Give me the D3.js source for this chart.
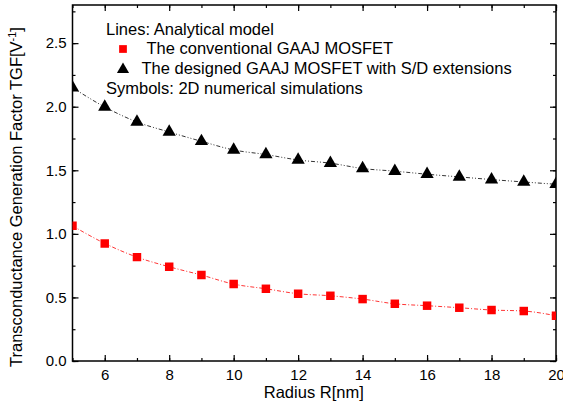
<!DOCTYPE html>
<html>
<head>
<meta charset="utf-8">
<script src="https://cdn.jsdelivr.net/npm/d3@7"></script>
<style>
  body { margin: 0; background: #fff; }
  svg { display: block; font-family: "Liberation Sans", Arial, sans-serif; }
</style>
</head>
<body>
<svg id="chart" width="563" height="407"></svg>
<script>
// radius values (nm)
const radius = [5, 6, 7, 8, 9, 10, 11, 12, 13, 14, 15, 16, 17, 18, 19, 20];
// conventional GAAJ MOSFET (red squares)
const conventional = [1.063, 0.925, 0.817, 0.741, 0.676, 0.605, 0.568, 0.529, 0.513, 0.487, 0.450, 0.435, 0.419, 0.401, 0.393, 0.356];
// designed GAAJ MOSFET with S/D extensions (black triangles)
const designed = [2.150, 1.998, 1.880, 1.801, 1.728, 1.660, 1.624, 1.581, 1.556, 1.514, 1.493, 1.469, 1.448, 1.427, 1.408, 1.390];

const xMajor = [6, 8, 10, 12, 14, 16, 18, 20];
const yMajor = [0.0, 0.5, 1.0, 1.5, 2.0, 2.5];

const legendLines = ['Lines: Analytical model', 'The conventional GAAJ MOSFET',
  'The designed GAAJ MOSFET with S/D extensions', 'Symbols: 2D numerical simulations'];

const width = 563, height = 407;
const margin = { top: 5, right: 7, bottom: 46, left: 72.5 };
const iw = width - margin.left - margin.right;
const ih = height - margin.top - margin.bottom;

const svg = d3.select('#chart');
const g = svg.append('g').attr('transform', `translate(${margin.left},${margin.top})`);

const x = d3.scaleLinear().domain([5, 20]).range([0, iw]);
const y = d3.scaleLinear().domain([0, 2.8]).range([ih, 0]);

const xMinor = d3.range(5, 20.01, 1);
const yMinor = d3.range(0, 2.81, 0.25);

// axes: minor ticks, then major ticks with labels
function styleAxis(sel) {
  sel.selectAll('path.domain').remove();
  sel.selectAll('line').attr('stroke', '#000').attr('stroke-width', 1.2);
  sel.selectAll('text').attr('fill', '#000').style('font-size', '15px');
}

g.append('g').attr('transform', `translate(0,${ih})`)
  .call(d3.axisBottom(x).tickValues(xMinor).tickSize(-3).tickFormat(''))
  .call(styleAxis);
g.append('g').attr('transform', `translate(0,${ih})`)
  .call(d3.axisBottom(x).tickValues(xMajor).tickSize(-6).tickPadding(8.5).tickFormat(d3.format('d')))
  .call(styleAxis);
g.append('g')
  .call(d3.axisTop(x).tickValues(xMinor).tickSize(-3).tickFormat(''))
  .call(styleAxis);
g.append('g')
  .call(d3.axisTop(x).tickValues(xMajor).tickSize(-6).tickFormat(''))
  .call(styleAxis);

g.append('g')
  .call(d3.axisLeft(y).tickValues(yMinor).tickSize(-3).tickFormat(''))
  .call(styleAxis);
g.append('g')
  .call(d3.axisLeft(y).tickValues(yMajor).tickSize(-6).tickPadding(6).tickFormat(d3.format('.1f')))
  .call(styleAxis);
g.append('g').attr('transform', `translate(${iw},0)`)
  .call(d3.axisRight(y).tickValues(yMinor).tickSize(-3).tickFormat(''))
  .call(styleAxis);
g.append('g').attr('transform', `translate(${iw},0)`)
  .call(d3.axisRight(y).tickValues(yMajor).tickSize(-6).tickFormat(''))
  .call(styleAxis);

// frame
g.append('rect')
  .attr('width', iw).attr('height', ih)
  .attr('fill', 'none').attr('stroke', '#000').attr('stroke-width', 1.5);

// clip for data
g.append('clipPath').attr('id', 'plotclip')
  .append('rect').attr('width', iw).attr('height', ih);
const plot = g.append('g').attr('clip-path', 'url(#plotclip)');

const series = [
  { values: conventional, color: '#ff0000', dash: '4,2,1,2', symbol: d3.symbolSquare, size: 72 },
  { values: designed, color: '#000000', dash: '4,2,1,2,1,2', symbol: d3.symbolTriangle, size: 76 }
];

const line = d3.line()
  .x((d, i) => x(radius[i]))
  .y((d) => y(d))
  .curve(d3.curveMonotoneX);

series.forEach((s) => {
  plot.append('path')
    .datum(s.values)
    .attr('d', line)
    .attr('fill', 'none')
    .attr('stroke', s.color)
    .attr('stroke-width', 0.8)
    .attr('stroke-dasharray', s.dash);

  plot.selectAll(null)
    .data(s.values)
    .enter()
    .append('path')
    .attr('d', d3.symbol().type(s.symbol).size(s.size))
    .attr('transform', (d, i) => `translate(${x(radius[i])},${y(d)})`)
    .attr('fill', s.color);
});

// legend
const leg = g.append('g').attr('font-size', '16.5px').attr('fill', '#000');
leg.append('text').attr('x', 106 - margin.left).attr('y', 35 - margin.top).text(legendLines[0]);
leg.append('path')
  .attr('d', d3.symbol().type(d3.symbolSquare).size(60))
  .attr('transform', `translate(${123 - margin.left},${49 - margin.top})`)
  .attr('fill', '#ff0000');
leg.append('text').attr('x', 146.5 - margin.left).attr('y', 54 - margin.top).text(legendLines[1]);
leg.append('path')
  .attr('d', d3.symbol().type(d3.symbolTriangle).size(64))
  .attr('transform', `translate(${123 - margin.left},${69.5 - margin.top})`)
  .attr('fill', '#000');
leg.append('text').attr('x', 141.5 - margin.left).attr('y', 73.5 - margin.top).text(legendLines[2]);
leg.append('text').attr('x', 106 - margin.left).attr('y', 93.5 - margin.top).text(legendLines[3]);

// axis titles
svg.append('text')
  .attr('x', margin.left + iw / 2 - 0.5)
  .attr('y', 398)
  .attr('text-anchor', 'middle')
  .style('font-size', '16.5px')
  .text('Radius R[nm]');

const yt = svg.append('text')
  .attr('transform', `translate(22,${197}) rotate(-90)`)
  .attr('text-anchor', 'middle')
  .style('font-size', '16.5px');
yt.append('tspan').text('Transconductance Generation Factor TGF[V');
yt.append('tspan').attr('dy', -6).style('font-size', '11px').text('-1');
yt.append('tspan').attr('dy', 6).text(']');
</script>
</body>
</html>
